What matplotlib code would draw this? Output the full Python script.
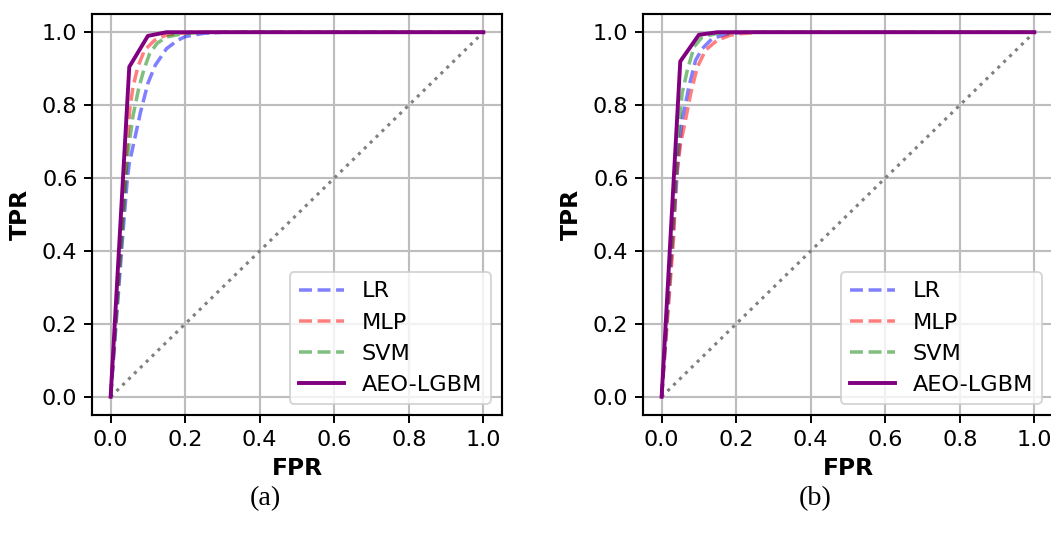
import matplotlib
matplotlib.use("Agg")
import matplotlib.pyplot as plt

# panel (a)
lr_a_fpr = [0, 0.033, 0.045, 0.05, 0.08, 0.1, 0.12, 0.15, 0.18, 0.2, 0.25, 0.3, 1.0]
lr_a_tpr = [0, 0.45, 0.60, 0.64, 0.78, 0.86, 0.91, 0.955, 0.978, 0.988, 0.997, 1.0, 1.0]
mlp_a_fpr = [0, 0.045, 0.051, 0.06, 0.073, 0.091, 0.118, 0.149, 0.185, 0.22, 1.0]
mlp_a_tpr = [0, 0.70, 0.786, 0.85, 0.905, 0.951, 0.978, 0.992, 0.997, 1.0, 1.0]
svm_a_fpr = [0, 0.045, 0.06, 0.075, 0.09, 0.105, 0.125, 0.15, 0.2, 0.25, 1.0]
svm_a_tpr = [0, 0.66, 0.77, 0.845, 0.90, 0.942, 0.97, 0.987, 0.997, 1.0, 1.0]
aeo_a_fpr = [0, 0.05, 0.1, 0.15, 1.0]
aeo_a_tpr = [0, 0.905, 0.99, 1.0, 1.0]

# panel (b)
lr_b_fpr = [0, 0.045, 0.055, 0.073, 0.091, 0.109, 0.136, 0.176, 0.22, 1.0]
lr_b_tpr = [0, 0.66, 0.759, 0.85, 0.923, 0.955, 0.983, 0.995, 1.0, 1.0]
mlp_b_fpr = [0, 0.033, 0.038, 0.051, 0.064, 0.078, 0.096, 0.118, 0.149, 0.185, 0.212, 0.26, 1.0]
mlp_b_tpr = [0, 0.448, 0.595, 0.695, 0.759, 0.832, 0.905, 0.951, 0.978, 0.992, 0.996, 1.0, 1.0]
svm_b_fpr = [0, 0.045, 0.055, 0.069, 0.087, 0.109, 0.149, 0.2, 1.0]
svm_b_tpr = [0, 0.72, 0.832, 0.896, 0.96, 0.987, 0.997, 1.0, 1.0]
aeo_b_fpr = [0, 0.05, 0.1, 0.15, 1.0]
aeo_b_tpr = [0, 0.92, 0.993, 1.0, 1.0]

labels = ["LR", "MLP", "SVM", "AEO-LGBM"]
ticks = [0.0, 0.2, 0.4, 0.6, 0.8, 1.0]

panels = [
    ("(a)", [(lr_a_fpr, lr_a_tpr), (mlp_a_fpr, mlp_a_tpr), (svm_a_fpr, svm_a_tpr), (aeo_a_fpr, aeo_a_tpr)]),
    ("(b)", [(lr_b_fpr, lr_b_tpr), (mlp_b_fpr, mlp_b_tpr), (svm_b_fpr, svm_b_tpr), (aeo_b_fpr, aeo_b_tpr)]),
]

W, H = 1051, 535
fig = plt.figure(figsize=(W / 140, H / 140), dpi=140)

lefts = [92, 643]
caption_x = [265, 815]
for i, (cap, curves) in enumerate(panels):
    ax = fig.add_axes([lefts[i] / W, (H - 415) / H, 410 / W, 401 / H])
    ax.plot([0, 1], [0, 1], color="gray", linestyle=":", lw=1.6)
    styles = [("blue", "--", 0.5, 1.8), ("red", "--", 0.5, 1.8),
              ("green", "--", 0.5, 1.8), ("purple", "-", 1.0, 2.0)]
    for (fpr, tpr), lab, (c, ls, a, lw) in zip(curves, labels, styles):
        ax.plot(fpr, tpr, color=c, linestyle=ls, alpha=a, lw=lw, label=lab)
    ax.set_xlim(-0.05, 1.05)
    ax.set_ylim(-0.05, 1.05)
    ax.set_xticks(ticks)
    ax.set_yticks(ticks)
    ax.tick_params(labelsize=11.5, width=1.0, length=4)
    for s in ax.spines.values():
        s.set_linewidth(1.1)
    ax.grid(True, lw=1.1, color="#bdbdbd")
    ax.set_xlabel("FPR", fontsize=12, fontweight="bold", labelpad=4)
    ax.set_ylabel("TPR", fontsize=12, fontweight="bold", labelpad=5)
    ax.legend(loc="lower right", fontsize=11.5)
    fig.text(caption_x[i] / W, 1 - 499 / H, cap, ha="center", va="center",
             family="Liberation Serif", fontsize=14.5)

fig.savefig("out.png", dpi=140)
